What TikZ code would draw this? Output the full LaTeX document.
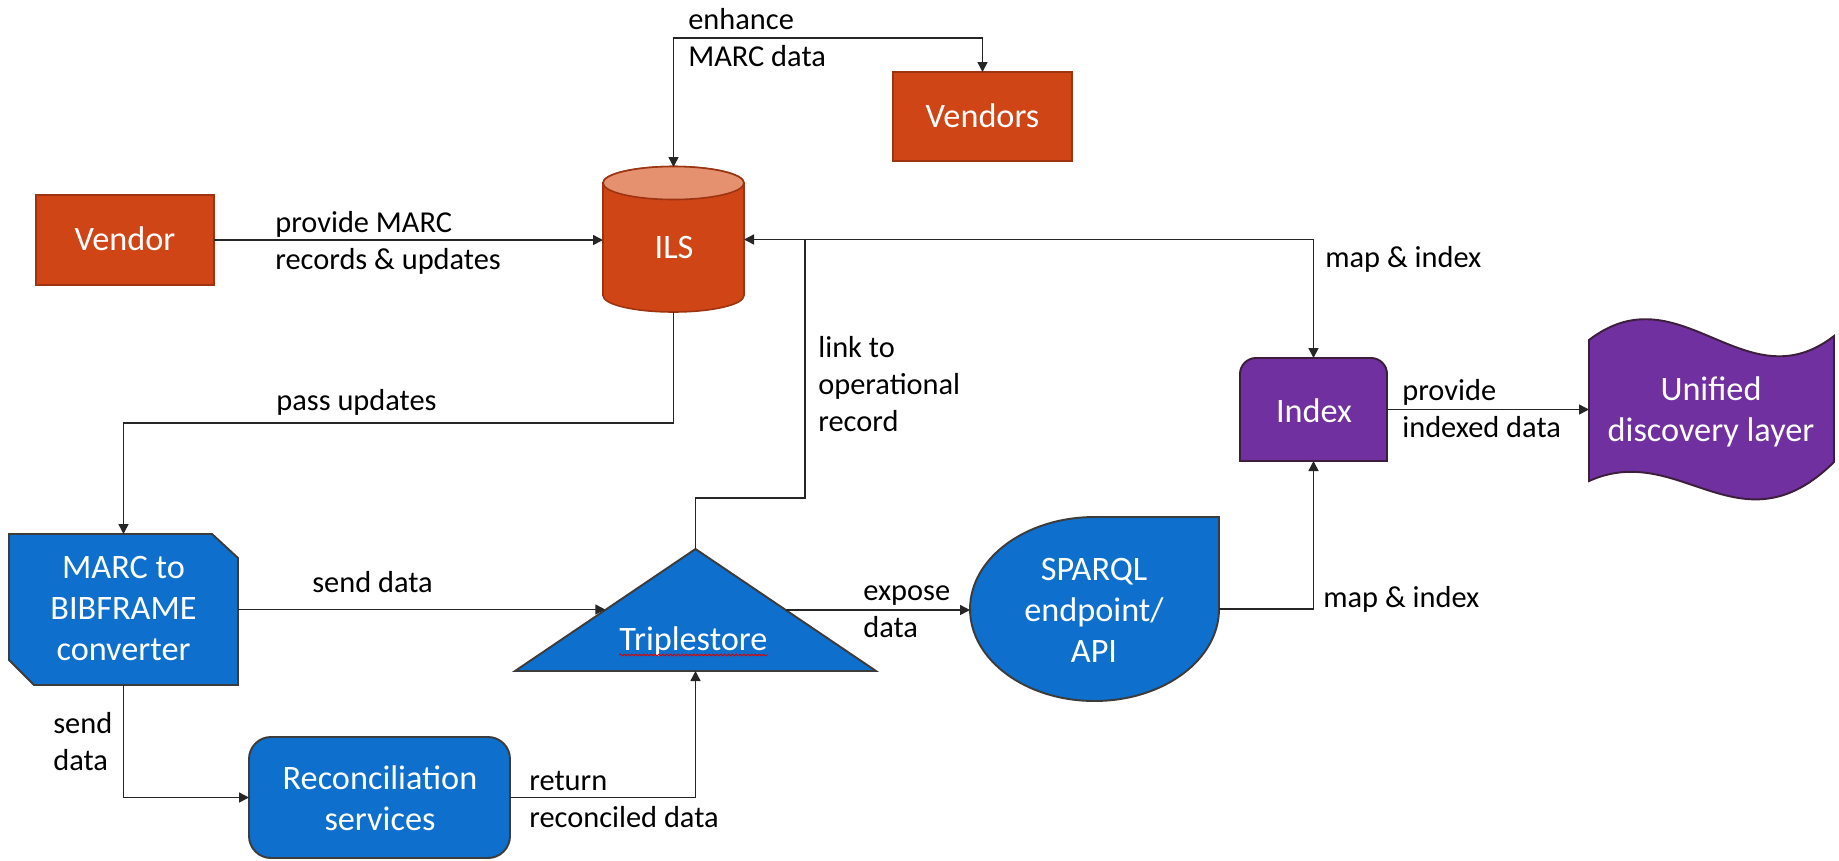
\documentclass[tikz,border=0pt]{standalone}
\usepackage{fontspec}
\setmainfont{Carlito}
\usetikzlibrary{arrows.meta,calc,fit,decorations.pathmorphing}
\definecolor{vorange}{HTML}{D04516}
\definecolor{vorangeD}{HTML}{9C3311}
\definecolor{vorangeL}{HTML}{E5906F}
\definecolor{vblue}{HTML}{0E6FCC}
\definecolor{vpurple}{HTML}{7030A0}
\definecolor{edgegray}{HTML}{3C3C3C}
\definecolor{purpleD}{HTML}{3D1F3D}
\newcommand{\lbltab}[1]{\begin{tabular}[t]{@{}l@{}}#1\end{tabular}}
\newcommand{\ctrtab}[1]{\begin{tabular}[t]{@{}c@{}}#1\end{tabular}}
\begin{document}
\begin{tikzpicture}[x=0.02cm,y=-0.02cm,
  conn/.style={draw=black!85, line width=0.85pt},
  arr/.style={conn, -{Triangle[length=0.2cm,width=0.2cm]}},
  barr/.style={conn, {Triangle[length=0.2cm,width=0.2cm]}-{Triangle[length=0.2cm,width=0.2cm]}},
  anchorbox/.style={inner sep=0pt, outer sep=0pt},
  orangebox/.style={fill=vorange, draw=vorangeD, line width=0.9pt},
  blueshape/.style={fill=vblue, draw=edgegray, line width=1.1pt},
  purpleshape/.style={fill=vpurple, draw=purpleD, line width=1.1pt},
  lbl/.style={font=\fontsize{17.3pt}{21.3pt}\selectfont, anchor=base west, inner sep=0pt, text=black},
  wtxt/.style={font=\fontsize{19.5pt}{23.6pt}\selectfont, anchor=base, inner sep=0pt, text=white},
]
\fill[white] (0,0) rectangle (1839,860);
\useasboundingbox (0,0) rectangle (1839,860);

% anchor boxes / rectangular shapes
\node[anchorbox, orangebox, fit={(36,195) (214,285)}] (vendor) {};
\node[anchorbox, orangebox, fit={(893,72) (1072,161)}] (vendors) {};
\node[anchorbox, fit={(603,167) (744,312)}] (ils) {};
\node[anchorbox, fit={(9,534) (238,685)}] (conv) {};
\node[anchorbox, fit={(515,549) (876,671)}] (tri) {};
\node[anchorbox, fit={(970,517) (1219,701)}] (sparql) {};
\node[anchorbox, fit={(1240,358) (1387,461)}] (index) {};
\node[anchorbox, fit={(1589,318) (1834,503)}] (unified) {};
\node[anchorbox, blueshape, rounded corners=0.44cm, fit={(249,737) (510,858)}] (recon) {};

% ILS cylinder
\draw[orangebox] (603,183) -- (603,295.5)
  arc[start angle=180,end angle=360,x radius=1.41cm,y radius=0.33cm]
  -- (744,183)
  arc[start angle=0,end angle=180,x radius=1.41cm,y radius=0.33cm] -- cycle;
\draw[fill=vorangeL, draw=vorangeD, line width=0.9pt] (673.5,183) ellipse[x radius=1.41cm, y radius=0.33cm];

% converter (chamfered)
\draw[blueshape] (conv.north west) -- ($(conv.north east)+(-26,0)$) -- ($(conv.north east)+(0,24)$)
  -- (conv.south east) -- ($(conv.south west)+(25,0)$) -- ($(conv.south west)+(0,-25)$) -- cycle;

% triangle
\draw[blueshape] (tri.north) -- (tri.south east) -- (tri.south west) -- cycle;

% SPARQL
\draw[blueshape] (1094.5,517) -- (1219,517) -- (1219,609)
  arc[start angle=0,end angle=-270,x radius=2.49cm,y radius=1.84cm] -- cycle;

% Index
\draw[purpleshape] (1240,461) -- (1240,374) arc[start angle=180,end angle=90,radius=0.32cm]
  -- (1371,358) arc[start angle=90,end angle=0,radius=0.32cm] -- (1387,461) -- cycle;

% Unified
\draw[purpleshape] (1589,340) .. controls (1680,270) and (1745,405) .. (1834,336)
  -- (1834,462) .. controls (1740,555) and (1680,440) .. (1589,481) -- cycle;

% connectors
\coordinate (enh) at (830,38);
\draw[barr] (ils.north) |- (enh) -| (vendors.north);
\draw[arr] (vendor.east) -- (vendor.east -| ils.west);
\draw[barr] (index.north) |- (ils.east);
\coordinate (lk) at (805,498);
\draw[conn] (tri.north) |- (lk) -- (lk |- ils.east);
\draw[arr] (ils.south) -- ++(0,111) -| (conv.north);
\coordinate (triL) at ($(tri.south west)!0.5!(tri.north)$);
\coordinate (triR) at ($(tri.south east)!0.5!(tri.north)$);
\draw[arr] (conv.east) -- (conv.east -| triL);
\draw[arr] (triR) -- (triR -| sparql.west);
\draw[arr] (sparql.east) -| (index.south);
\draw[arr] (index.east) -- (index.east -| unified.west);
\draw[arr] (conv.south) |- (recon.west);
\draw[arr] (recon.east) -| (tri.south);

% connector labels
\node[lbl] (tEnh) at (688,29) {\lbltab{enhance\\MARC data}};
\node[lbl] (tProv) at (275,232) {\lbltab{provide MARC\\records \& updates}};
\node[lbl] (tPass) at (276,410) {pass updates};
\node[lbl] (tSend1) at (312,592) {send data};
\node[lbl] (tSend2) at (53,733) {\lbltab{send\\data}};
\node[lbl] (tLink) at (818,357) {\lbltab{link to\\operational\\record}};
\node[lbl] (tExp) at (863,600) {\lbltab{expose\\data}};
\node[lbl] (tMap1) at (1325,267) {map \& index};
\node[lbl] (tMap2) at (1323,607) {map \& index};
\node[lbl] (tPid) at (1402,400) {\lbltab{provide\\indexed data}};
\node[lbl] (tRet) at (529,790) {\lbltab{return\\reconciled data}};

% shape texts
\node[wtxt] (tVendor) at (125,250) {Vendor};
\node[wtxt] (tVendors) at (982.5,127) {Vendors};
\node[wtxt] (tILS) at (674,258) {ILS};
\node[wtxt] (tConv) at (123.5,578) {\ctrtab{MARC to\\BIBFRAME\\converter}};
\node[wtxt] (tTri) at (693.5,650) {Triplestore};
\node[wtxt] (tSparql) at (1094,580) {\ctrtab{SPARQL\\endpoint/\\API}};
\node[wtxt] (tRecon) at (380,789) {\ctrtab{Reconciliation\\services}};
\node[wtxt] (tIndex) at (1314,422) {Index};
\node[wtxt] (tUni) at (1711,400) {\ctrtab{Unified\\discovery layer}};
\draw[red!85!black, line width=0.5pt, decorate, decoration={snake, amplitude=0.5pt, segment length=2.2pt}]
  ($(tTri.base west)+(0,5)$) -- ($(tTri.base east)+(0,5)$);
\end{tikzpicture}
\end{document}
